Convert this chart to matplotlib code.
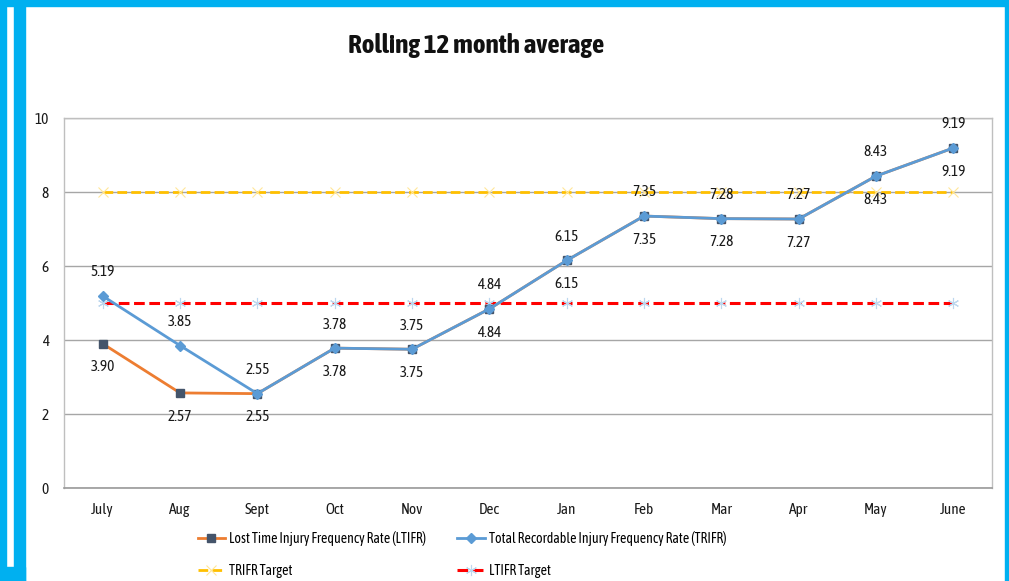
import matplotlib
matplotlib.use("Agg")
import matplotlib.pyplot as plt
from matplotlib.patches import Rectangle
from matplotlib.lines import Line2D

months = ["July", "Aug", "Sept", "Oct", "Nov", "Dec", "Jan", "Feb", "Mar", "Apr", "May", "June"]
ltifr = [3.90, 2.57, 2.55, 3.78, 3.75, 4.84, 6.15, 7.35, 7.28, 7.27, 8.43, 9.19]
trifr = [5.19, 3.85, 2.55, 3.78, 3.75, 4.84, 6.15, 7.35, 7.28, 7.27, 8.43, 9.19]
trifr_target = [8] * 12
ltifr_target = [5] * 12
yticks = [0, 2, 4, 6, 8, 10]

plt.rcParams["font.family"] = ["Asap Condensed", "DejaVu Sans"]

W, H = 1009, 581
fig = plt.figure(figsize=(W / 100, H / 100), dpi=100)

# frame decoration in pixel units
BLUE = "#00B0F0"
def px_rect(x0, y0, x1, y1, color):
    fig.patches.append(Rectangle((x0 / W, 1 - y1 / H), (x1 - x0) / W, (y1 - y0) / H,
                                 transform=fig.transFigure, color=color, zorder=0))
px_rect(0, 0, W, 6, BLUE)
px_rect(0, 0, 6, H, BLUE)
px_rect(14, 0, 25, H, BLUE)
px_rect(0, 567, 25, H, BLUE)
px_rect(1005, 0, 1008, H, BLUE)

ax = fig.add_axes([64 / W, 1 - 488 / H, 928 / W, 370 / H])
x = list(range(len(months)))

DASH = (0, (3.5, 1.5))
ax.plot(x, trifr_target, color="#FFC000", lw=2.0, ls=DASH,
        marker="x", ms=7, mec="#FFE699", mew=0.8, zorder=3)
ax.plot(x, ltifr_target, color="#FF0000", lw=2.2, ls=DASH,
        marker=(6, 2, 0), ms=8, mec="#BDD7EE", mew=0.8, zorder=3)
ax.plot(x, ltifr, color="#ED7D31", lw=2.0, marker="s", ms=6,
        mfc="#44546A", mec="#44546A", zorder=4)
ax.plot(x, trifr, color="#5B9BD5", lw=2.0, marker="D", ms=5.5,
        mfc="#5B9BD5", mec="#5B9BD5", zorder=5)

LBL = 11
for xi, v in zip(x, trifr):
    ax.annotate(f"{v:.2f}", (xi, v), xytext=(0, 17), textcoords="offset points",
                ha="center", va="center", fontsize=LBL, color="#1a1a1a")
for xi, v in zip(x, ltifr):
    ax.annotate(f"{v:.2f}", (xi, v), xytext=(0, -17), textcoords="offset points",
                ha="center", va="center", fontsize=LBL, color="#1a1a1a")

ax.set_xlim(-0.5, len(months) - 0.5)
ax.set_ylim(0, 10)
ax.set_yticks(yticks)
ax.set_xticks(x)
ax.set_xticklabels(months)
ax.tick_params(axis="both", length=0, labelsize=LBL, colors="#1a1a1a")
ax.tick_params(axis="y", pad=11)
ax.tick_params(axis="x", pad=11)
ax.grid(axis="y", color="#A6A6A6", lw=1.0)
ax.set_axisbelow(True)
for s in ["top", "right", "left"]:
    ax.spines[s].set_color("#BFBFBF")
    ax.spines[s].set_linewidth(1.0)
ax.spines["bottom"].set_color("#999999")
ax.spines["bottom"].set_linewidth(1.2)

fig.text(476 / W, 1 - 46 / H, "Rolling 12 month average", ha="center", va="center",
         fontsize=19.5, fontweight="bold", color="#111111")

h_lt = Line2D([], [], color="#ED7D31", lw=2.0, marker="s", ms=6, mfc="#44546A", mec="#44546A")
h_tr = Line2D([], [], color="#5B9BD5", lw=2.0, marker="D", ms=5.5, mfc="#5B9BD5", mec="#5B9BD5")
h_trt = Line2D([], [], color="#FFC000", lw=2.0, ls=DASH, marker="x", ms=7, mec="#FFE699", mew=0.8)
h_ltt = Line2D([], [], color="#FF0000", lw=2.2, ls=DASH, marker=(6, 2, 0), ms=8, mec="#BDD7EE", mew=0.8)
# column-major fill: first column then second
handles = [h_lt, h_trt, h_tr, h_ltt]
labels = ["Lost Time Injury Frequency Rate (LTIFR)", "TRIFR Target",
          "Total Recordable Injury Frequency Rate (TRIFR)", "LTIFR Target"]
fig.legend(handles, labels, ncol=2, loc="upper left",
           bbox_to_anchor=(185 / W, 1 - 518 / H), frameon=False,
           fontsize=10, handlelength=2.0, handletextpad=0.3,
           columnspacing=2.2, labelspacing=1.3)

fig.savefig("out.png", dpi=100)
